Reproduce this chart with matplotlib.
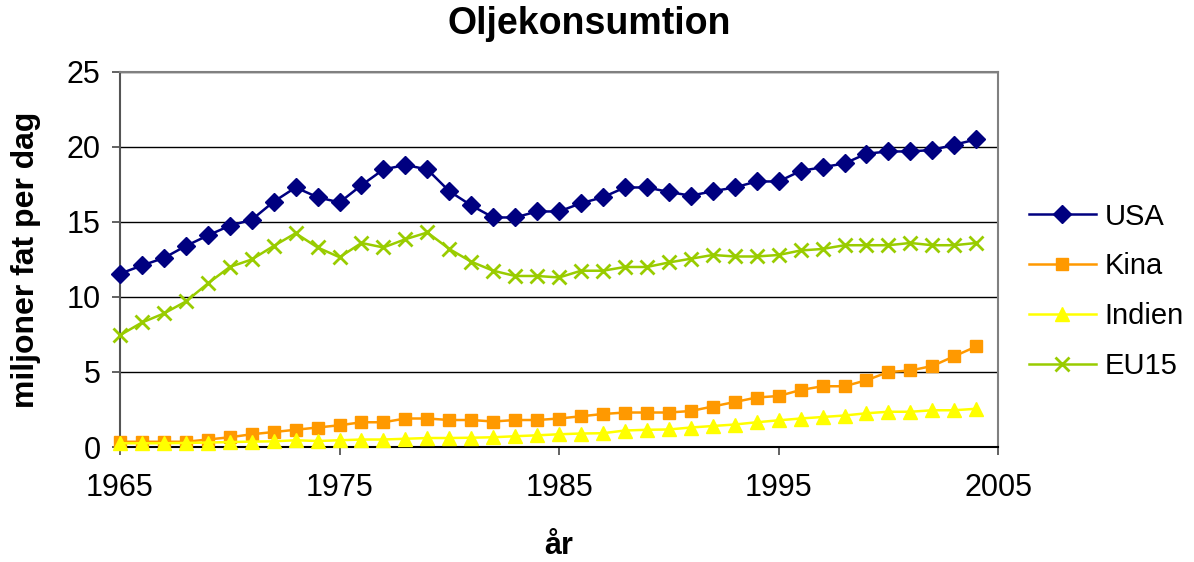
import matplotlib
matplotlib.use("Agg")
import matplotlib.pyplot as plt
import numpy as np

plt.rcParams['font.family'] = ['Liberation Sans', 'DejaVu Sans']

years = np.arange(1965, 2005)

usa = [11.55, 12.1, 12.6, 13.4, 14.1, 14.75, 15.15, 16.35, 17.3, 16.65,
       16.3, 17.45, 18.5, 18.8, 18.5, 17.05, 16.1, 15.3, 15.3, 15.7,
       15.7, 16.25, 16.65, 17.3, 17.3, 17.0, 16.75, 17.05, 17.3, 17.7,
       17.7, 18.4, 18.65, 18.9, 19.55, 19.7, 19.7, 19.8, 20.15, 20.5]

kina = [0.35, 0.35, 0.35, 0.35, 0.5, 0.65, 0.85, 1.0, 1.15, 1.3,
        1.45, 1.65, 1.65, 1.9, 1.9, 1.8, 1.8, 1.7, 1.8, 1.8,
        1.9, 2.05, 2.2, 2.3, 2.3, 2.3, 2.4, 2.7, 3.0, 3.3,
        3.4, 3.8, 4.05, 4.05, 4.45, 5.0, 5.1, 5.4, 6.05, 6.7]

indien = [0.25, 0.25, 0.25, 0.27, 0.3, 0.33, 0.36, 0.38, 0.45, 0.4,
          0.45, 0.5, 0.5, 0.55, 0.6, 0.6, 0.62, 0.65, 0.72, 0.78,
          0.85, 0.9, 0.92, 1.1, 1.15, 1.17, 1.3, 1.4, 1.5, 1.65,
          1.78, 1.9, 2.0, 2.1, 2.25, 2.35, 2.35, 2.45, 2.45, 2.55]

eu15 = [7.45, 8.3, 8.9, 9.7, 10.9, 12.0, 12.5, 13.4, 14.25, 13.3,
        12.65, 13.6, 13.3, 13.85, 14.3, 13.2, 12.35, 11.75, 11.4, 11.4,
        11.3, 11.75, 11.75, 12.0, 12.0, 12.3, 12.55, 12.8, 12.7, 12.7,
        12.8, 13.1, 13.2, 13.45, 13.45, 13.45, 13.6, 13.45, 13.45, 13.6]

series = [
    ("USA", usa, "#000080", "D", 9),
    ("Kina", kina, "#FF9900", "s", 8),
    ("Indien", indien, "#FFFF00", "^", 10),
    ("EU15", eu15, "#99CC00", "x", 10),
]

fig = plt.figure(figsize=(11.94, 5.62), dpi=100)
ax = fig.add_axes([0.1005, 0.2046, 0.7355, 0.6674])

for name, vals, col, mk, ms in series:
    kw = dict(markeredgewidth=2) if mk == "x" else dict(markeredgecolor=col)
    ax.plot(years, vals, color=col, marker=mk, markersize=ms, linewidth=1.8,
            label=name, clip_on=False, zorder=3, **kw)

ax.set_xlim(1965, 2005)
ax.set_ylim(0, 25)
ax.set_xticks([1965, 1975, 1985, 1995, 2005])
ax.set_yticks([0, 5, 10, 15, 20, 25])
ax.grid(axis='y', color='black', linewidth=1)
ax.set_axisbelow(True)

for s in ['top', 'right']:
    ax.spines[s].set_color('#808080')
    ax.spines[s].set_linewidth(1.5)
ax.spines['left'].set_color('#555555')
ax.spines['left'].set_linewidth(1.5)
ax.spines['bottom'].set_color('black')
ax.spines['bottom'].set_linewidth(1.5)

ax.tick_params(axis='both', labelsize=22, length=6, width=1.3, color='#555555', pad=8)
ax.tick_params(axis='x', pad=13)

ax.set_xlabel('år', fontsize=22, fontweight='bold', labelpad=20)
ax.set_ylabel('miljoner fat per dag', fontsize=23, fontweight='bold', labelpad=18)
fig.text(589 / 1194, 1 - 24 / 562, 'Oljekonsumtion', fontsize=27, fontweight='bold',
         ha='center', va='center')

ax.legend(loc='center left', bbox_to_anchor=(1.005, 0.415), frameon=False, fontsize=21,
          handlelength=2.3, labelspacing=0.75, handletextpad=0.3)

fig.savefig('out.png', dpi=100)
